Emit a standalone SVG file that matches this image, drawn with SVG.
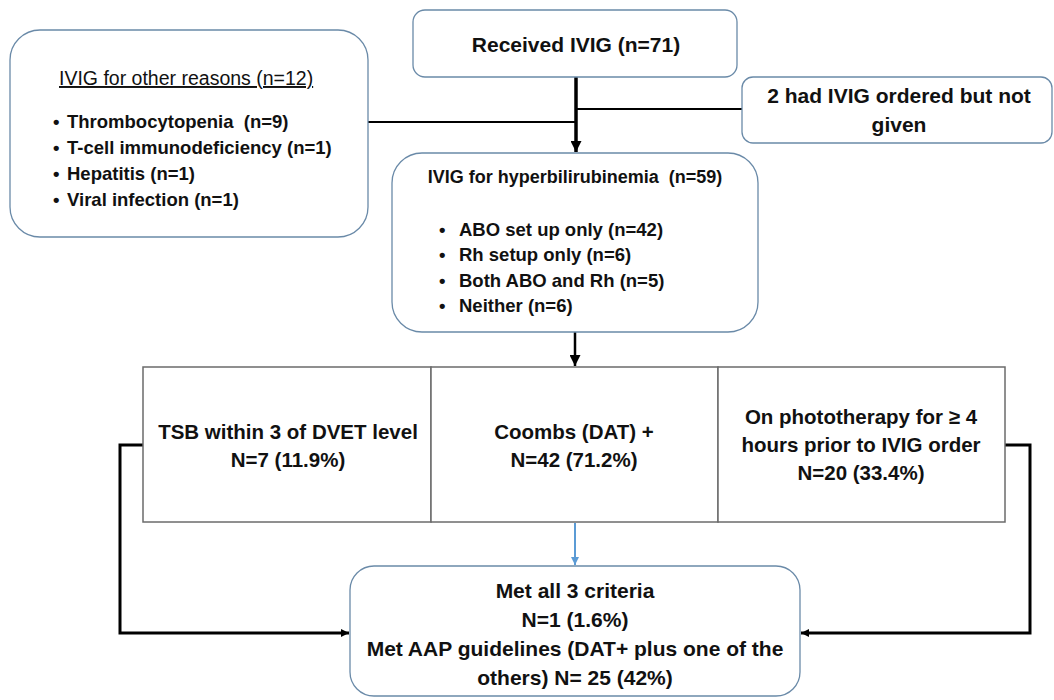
<svg xmlns="http://www.w3.org/2000/svg" width="1054" height="700" viewBox="0 0 1054 700">
<style>
  .box { fill: #ffffff; stroke: #6a8aa8; stroke-width: 1.3; }
  .cell { fill: #ffffff; stroke: #6b6b6b; stroke-width: 1.5; }
  .t { font-family: "Liberation Sans", Arial, sans-serif; font-weight: bold; fill: #111111; }
  .c { text-anchor: middle; }
  .big { font-size: 21px; }
  .mid { font-size: 20.5px; }
  .sm { font-size: 18.5px; }
  .conn { fill: none; stroke: #000000; }
</style>
<defs>
  <marker id="ah" viewBox="0 0 10 10" refX="10" refY="5" markerWidth="12" markerHeight="11" markerUnits="userSpaceOnUse" orient="auto">
    <path d="M0,0 L10,5 L0,10 Z" fill="#000000"/>
  </marker>
  <marker id="ahs" viewBox="0 0 10 10" refX="10" refY="5" markerWidth="9" markerHeight="8" markerUnits="userSpaceOnUse" orient="auto">
    <path d="M0,0 L10,5 L0,10 Z" fill="#000000"/>
  </marker>
  <marker id="ahb" viewBox="0 0 10 10" refX="10" refY="5" markerWidth="9" markerHeight="8" markerUnits="userSpaceOnUse" orient="auto">
    <path d="M0,0 L10,5 L0,10 Z" fill="#5b9bd5"/>
  </marker>
</defs>

<g id="connectors">
  <line class="conn" x1="368" y1="122" x2="576" y2="122" stroke-width="2"/>
  <line class="conn" x1="576" y1="109" x2="742" y2="109" stroke-width="2"/>
  <line class="conn" x1="576" y1="77" x2="576" y2="152" stroke-width="3.5" marker-end="url(#ah)"/>
  <line class="conn" x1="575" y1="332" x2="575" y2="366" stroke-width="2.5" marker-end="url(#ah)"/>
  <path class="conn" d="M143,445 H120 V633 H349" stroke-width="3" marker-end="url(#ahs)"/>
  <path class="conn" d="M1005,445 H1030 V633 H801" stroke-width="3" marker-end="url(#ahs)"/>
  <line x1="575" y1="523" x2="575" y2="565" stroke="#5b9bd5" stroke-width="2" marker-end="url(#ahb)"/>
</g>

<g id="node-other">
  <rect class="box" x="10" y="30" width="358" height="207" rx="30" ry="30"/>
  <text x="59" y="85" font-family="Liberation Sans, Arial, sans-serif" font-size="19.5" fill="#111111" text-decoration="underline">IVIG for other reasons (n=12)</text>
  <text class="t sm" x="53" y="128">•</text>
  <text class="t sm" x="67" y="128" xml:space="preserve">Thrombocytopenia  (n=9)</text>
  <text class="t sm" x="53" y="154">•</text>
  <text class="t sm" x="67" y="154">T-cell immunodeficiency (n=1)</text>
  <text class="t sm" x="53" y="180">•</text>
  <text class="t sm" x="67" y="180">Hepatitis (n=1)</text>
  <text class="t sm" x="53" y="206">•</text>
  <text class="t sm" x="67" y="206">Viral infection (n=1)</text>
</g>

<g id="node-received">
  <rect class="box" x="413" y="10" width="324" height="67" rx="12" ry="12"/>
  <text class="t big c" x="576" y="52">Received IVIG (n=71)</text>
</g>

<g id="node-notgiven">
  <rect class="box" x="742" y="77" width="310" height="66" rx="11" ry="11"/>
  <text class="t big c" x="899" y="103">2 had IVIG ordered but not</text>
  <text class="t big c" x="899" y="132">given</text>
</g>

<g id="node-hyper">
  <rect class="box" x="392" y="153" width="366" height="179" rx="30" ry="30"/>
  <text class="t c" x="575" y="183" font-size="18" xml:space="preserve">IVIG for hyperbilirubinemia  (n=59)</text>
  <text class="t sm" x="439" y="236">•</text>
  <text class="t sm" x="459" y="236">ABO set up only (n=42)</text>
  <text class="t sm" x="439" y="261">•</text>
  <text class="t sm" x="459" y="261">Rh setup only (n=6)</text>
  <text class="t sm" x="439" y="287">•</text>
  <text class="t sm" x="459" y="287">Both ABO and Rh (n=5)</text>
  <text class="t sm" x="439" y="312">•</text>
  <text class="t sm" x="459" y="312">Neither (n=6)</text>
</g>

<g id="node-tsb">
  <rect class="cell" x="143" y="367" width="288" height="155"/>
  <text class="t mid c" x="288" y="439">TSB within 3 of DVET level</text>
  <text class="t mid c" x="288" y="467">N=7 (11.9%)</text>
</g>

<g id="node-coombs">
  <rect class="cell" x="431" y="367" width="287" height="155"/>
  <text class="t mid c" x="574" y="439">Coombs (DAT) +</text>
  <text class="t mid c" x="574" y="467">N=42 (71.2%)</text>
</g>

<g id="node-photo">
  <rect class="cell" x="718" y="367" width="287" height="155"/>
  <text class="t mid c" x="861" y="424">On phototherapy for ≥ 4</text>
  <text class="t mid c" x="861" y="452">hours prior to IVIG order</text>
  <text class="t mid c" x="861" y="480">N=20 (33.4%)</text>
</g>

<g id="node-met">
  <rect class="box" x="350" y="566" width="450" height="130" rx="24" ry="24"/>
  <text class="t big c" x="575" y="598">Met all 3 criteria</text>
  <text class="t big c" x="575" y="627">N=1 (1.6%)</text>
  <text class="t big c" x="575" y="656">Met AAP guidelines (DAT+ plus one of the</text>
  <text class="t big c" x="575" y="685">others) N= 25 (42%)</text>
</g>
</svg>
